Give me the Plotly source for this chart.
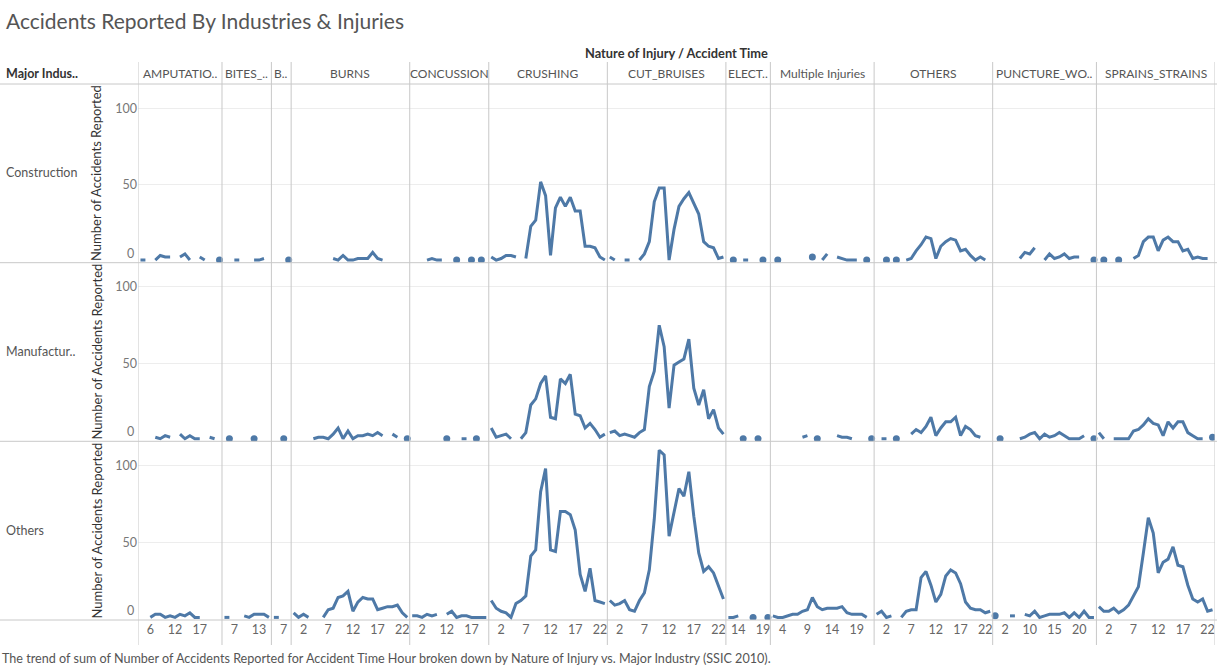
import plotly.graph_objects as go
from plotly.subplots import make_subplots

N = None

# ---------------- data ----------------
industry_labels = ["Construction", "Manufactur..", "Others"]
industries = ["Construction", "Manufacturing", "Others"]

injury_labels = ["AMPUTATIO..", "BITES_..", "B..", "BURNS", "CONCUSSION", "CRUSHING",
                 "CUT_BRUISES", "ELECT..", "Multiple Injuries", "OTHERS",
                 "PUNCTURE_WO..", "SPRAINS_STRAINS"]

y_ticks = [0, 50, 100]

amp_hours = [4, 5, 6, 8, 9, 10, 11, 12, 13, 14, 15, 16, 17, 18, 19, 20, 21]
amp_con = [1, 1, N, 1, 4, 3, 3, N, 3, 5, 1, N, 3, 1, N, N, 1]
amp_man = [N, N, N, 2, 1, 3, 2, N, 4, 1, 3, 1, 1, N, 2, 1, N]
amp_oth = [N, N, 1, 3, 3, 1, 2, 1, 3, 2, 4, 1, 1, N, N, N, N]

bites_hours = [4, 6, 7, 8, 9, 10, 11, 13, 14, 16]
bites_con = [N, N, 1, 1, N, N, 1, 1, 2, N]
bites_man = [N, 1, N, N, N, N, 1, N, N, N]
bites_oth = [1, 1, N, N, 2, 1, 3, 3, 3, 1]

b_hours = [5, 6, 7, 9]
b_con = [N, N, N, 1]
b_man = [N, N, 1, N]
b_oth = [1, 1, N, N]

burns_hours = list(range(24))
burns_con = [N, N, N, N, N, N, N, N, 2, 1, 4, 1, 1, 2, 2, 2, 6, 2, 1, N, N, N, N, N]
burns_man = [N, N, N, N, 1, 2, 2, 1, 4, 8, 1, 6, 1, 3, 3, 4, 3, 5, 3, N, 4, 2, N, 1]
burns_oth = [4, 1, 3, 1, N, N, 1, 6, 7, 14, 15, 18, 5, 11, 14, 13, 13, 6, 7, 8, 8, 9, 4, 1]

conc_hours = [0, 1, 2, 3, 8, 9, 10, 12, 13, 14, 15, 16, 17, 18, 19, 21]
conc_con = [N, N, N, 1, 2, 1, 1, N, N, 1, N, N, 1, N, 1, N]
conc_man = [N, N, N, N, N, N, N, 1, N, N, 1, 1, N, 1, N, N]
conc_oth = [2, 2, 1, 3, 2, 3, N, 3, 5, 1, 2, 2, 1, 1, 1, 1]

crush_hours = list(range(24))
crush_con = [3, 1, 2, 4, 4, 3, N, 2, 23, 27, 52, 43, 4, 35, 42, 36, 42, 33, 33, 10, 10, 9, 3, 1]
crush_man = [8, 2, 3, 4, 1, N, 1, 5, 23, 27, 37, 42, 15, 14, 40, 37, 43, 17, 16, 8, 11, 7, 2, 4]
crush_oth = [12, 7, 5, 4, 1, 10, 12, 15, 41, 45, 83, 98, 45, 44, 70, 70, 68, 58, 29, 18, 33, 12, 11, 10]

cut_hours = list(range(24))
cut_con = [3, 1, N, 1, 1, N, 1, 5, 13, 39, 48, 48, 1, 21, 36, 41, 45, 38, 31, 13, 10, 9, 2, 3]
cut_man = [5, 6, 3, 4, 3, 2, 5, 7, 35, 45, 75, 61, 21, 49, 51, 53, 66, 34, 23, 33, 14, 20, 8, 4]
cut_oth = [12, 9, 10, 12, 6, 5, 12, 17, 32, 65, 110, 107, 54, 70, 85, 80, 96, 67, 43, 31, 34, 30, 21, 13]

elect_hours = [9, 11, 14, 15, 16, 17, 18, 19, 21]
elect_con = [N, 1, N, 1, 1, N, N, 1, N]
elect_man = [N, N, N, 1, N, N, 1, N, N]
elect_oth = [1, 1, 2, N, N, 1, N, N, 1]

multi_hours = list(range(2, 23))
multi_con = [N, 1, N, N, N, N, N, N, 3, N, 1, 5, N, 3, 2, 1, 1, 1, N, 1, N]
multi_man = [N, N, N, N, N, N, 2, 3, N, 1, N, N, N, 3, 2, 2, 1, N, N, N, 1]
multi_oth = [2, 1, 1, 2, 3, 3, 5, 6, 14, 8, 6, 7, 7, 7, 8, 4, 3, 3, 3, 1, N]

others_hours = list(range(24))
others_con = [N, N, 1, N, 1, N, 1, 2, 7, 11, 16, 15, 2, 10, 13, 15, 14, 7, 8, 4, 1, 3, 1, N]
others_man = [N, 1, 1, N, 1, N, N, 4, 7, 5, 9, 15, 3, 8, 12, 12, 15, 3, 9, 7, 3, 2, N, N]
others_oth = [3, 5, 1, 2, N, 1, 5, 6, 6, 27, 31, 22, 11, 16, 28, 32, 30, 23, 11, 7, 6, 6, 4, 5]

punct_hours = [0, 1, 2, 5, 7, 8, 9, 10, 11, 12, 13, 14, 15, 16, 17, 18, 19, 20, 21, 22, 23]
punct_con = [N, N, N, N, N, 2, 6, 5, 9, N, 1, 5, 2, 3, 5, 2, 3, 3, N, N, 1]
punct_man = [N, 1, N, N, N, 1, 2, 4, 5, 1, 4, 2, 3, 5, 3, 1, 1, 1, 3, N, 1]
punct_oth = [2, N, N, 2, 2, N, 3, 2, 5, 1, 2, 3, 3, 3, 4, 1, 4, 1, 5, 1, 1]

sprains_hours = list(range(24))
sprains_con = [N, 1, N, N, 1, N, N, 2, 4, 13, 16, 16, 7, 14, 16, 13, 13, 7, 8, 2, 3, 2, 2, N]
sprains_man = [5, 1, N, 1, 1, 1, 1, 6, 7, 10, 14, 11, 10, 3, 12, 8, 12, 12, 5, 3, 1, 1, N, 2]
sprains_oth = [8, 5, 5, 7, 4, 6, 9, 15, 21, 43, 66, 56, 30, 37, 39, 47, 35, 34, 22, 13, 11, 13, 5, 6]

columns = [
    (amp_hours, [amp_con, amp_man, amp_oth]),
    (bites_hours, [bites_con, bites_man, bites_oth]),
    (b_hours, [b_con, b_man, b_oth]),
    (burns_hours, [burns_con, burns_man, burns_oth]),
    (conc_hours, [conc_con, conc_man, conc_oth]),
    (crush_hours, [crush_con, crush_man, crush_oth]),
    (cut_hours, [cut_con, cut_man, cut_oth]),
    (elect_hours, [elect_con, elect_man, elect_oth]),
    (multi_hours, [multi_con, multi_man, multi_oth]),
    (others_hours, [others_con, others_man, others_oth]),
    (punct_hours, [punct_con, punct_man, punct_oth]),
    (sprains_hours, [sprains_con, sprains_man, sprains_oth]),
]

# ---------------- layout geometry ----------------
W, H = 1217, 668
L, R, T, B = 138, 2, 84, 48
PW, PH = W - L - R, H - T - B
FONT = "Lato"
BLUE = "#4e79a7"
SEP = "#c8c8c8"


def px_x(px):
    return (px - L) / PW


def px_y(py):
    return (H - B - py) / PH


fig = make_subplots(rows=3, cols=1, vertical_spacing=0, shared_xaxes=True)

total_slots = sum(len(h) for h, _ in columns)
offsets = []
o = 0
for h, _ in columns:
    offsets.append(o)
    o += len(h)

for r in range(3):
    xs, ys, txt = [], [], []
    mx, my, mt = [], [], []
    for ci, (hours, rows) in enumerate(columns):
        vals = rows[r]
        off = offsets[ci]
        n = len(hours)
        for i, v in enumerate(vals):
            xs.append(off + i)
            ys.append(v)
            txt.append(f"{injury_labels[ci]}<br>Hour {hours[i]}")
            if v is not None:
                prev_none = i == 0 or vals[i - 1] is None
                next_none = i == n - 1 or vals[i + 1] is None
                if prev_none and next_none:
                    mx.append(off + i)
                    my.append(v)
                    mt.append(f"{injury_labels[ci]}<br>Hour {hours[i]}")
        xs.append(off + n - 0.5)
        ys.append(None)
        txt.append("")
    fig.add_trace(go.Scatter(x=xs, y=ys, mode="lines", connectgaps=False,
                             line=dict(color=BLUE, width=3), text=txt,
                             hovertemplate="%{text}<br>%{y}<extra>" + industries[r] + "</extra>",
                             showlegend=False), row=r + 1, col=1)
    fig.add_trace(go.Scatter(x=mx, y=my, mode="markers",
                             marker=dict(color=BLUE, size=7), text=mt,
                             hovertemplate="%{text}<br>%{y}<extra>" + industries[r] + "</extra>",
                             showlegend=False), row=r + 1, col=1)

# ticks
tickvals, ticktext = [], []
for ci, (hours, _) in enumerate(columns):
    for idx in range(2, len(hours), 5):
        tickvals.append(offsets[ci] + idx)
        ticktext.append(str(hours[idx]))

for r in range(1, 4):
    fig.update_xaxes(range=[-0.5, total_slots - 0.5], showgrid=False, zeroline=False,
                     showline=False, ticks="", showticklabels=(r == 3),
                     tickvals=tickvals, ticktext=ticktext,
                     tickfont=dict(family=FONT, size=12.5, color="#666"),
                     row=r, col=1)
    # the lowest tick label ("0") is drawn separately, lifted above the pane edge like Tableau
    fig.update_yaxes(range=[-0.7, 115.8], tickvals=y_ticks[1:], ticktext=[str(v) for v in y_ticks[1:]],
                     showgrid=True, gridcolor="#ededed", gridwidth=1, zeroline=False,
                     showline=False, ticks="", tickfont=dict(family=FONT, size=12.5, color="#777"),
                     row=r, col=1)

shapes = []
# vertical separators
bounds = [off - 0.5 for off in offsets] + [total_slots - 0.5]
for bx in bounds:
    shapes.append(dict(type="line", xref="x3", yref="paper", x0=bx, x1=bx,
                       y0=px_y(645), y1=px_y(62), line=dict(color=SEP, width=1)))
# horizontal separators
for py in [84, 262.7, 441.3, 620]:
    shapes.append(dict(type="line", xref="paper", yref="paper", x0=px_x(0), x1=px_x(1217),
                       y0=px_y(py), y1=px_y(py), line=dict(color=SEP, width=1)))

annotations = []
annotations.append(dict(text="Accidents Reported By Industries & Injuries", xref="paper", yref="paper",
                        x=px_x(4), y=px_y(20), xanchor="left", yanchor="middle", showarrow=False,
                        font=dict(family=FONT, size=21, color="#555")))
annotations.append(dict(text="<b>Nature of Injury / Accident Time</b>", xref="paper", yref="paper",
                        x=0.5, y=px_y(53), xanchor="center", yanchor="middle", showarrow=False,
                        font=dict(family=FONT, size=12.8, color="#333")))
annotations.append(dict(text="<b>Major Indus..</b>", xref="paper", yref="paper",
                        x=px_x(4), y=px_y(73), xanchor="left", yanchor="middle", showarrow=False,
                        font=dict(family=FONT, size=12.5, color="#333")))
for ci, (hours, _) in enumerate(columns):
    annotations.append(dict(text=injury_labels[ci], xref="x3", yref="paper",
                            x=offsets[ci] + (len(hours) - 1) / 2, y=px_y(73),
                            xanchor="center", yanchor="middle", showarrow=False,
                            font=dict(family=FONT, size=12, color="#555")))
row_centers = [173, 351.5, 530.5]
yrefs = ["y", "y2", "y3"]
for r in range(3):
    annotations.append(dict(text=industry_labels[r], xref="paper", yref="paper",
                            x=px_x(4), y=px_y(row_centers[r]), xanchor="left", yanchor="middle",
                            showarrow=False, font=dict(family=FONT, size=12.5, color="#555")))
    annotations.append(dict(text="Number of Accidents Reported", xref="paper", yref="paper",
                            x=px_x(96), y=px_y(row_centers[r]), xanchor="center", yanchor="middle",
                            textangle=-90, showarrow=False,
                            font=dict(family=FONT, size=13, color="#333")))
    annotations.append(dict(text=str(y_ticks[0]), xref="paper", yref=yrefs[r],
                            x=px_x(135), y=y_ticks[0], xanchor="right", yanchor="bottom",
                            showarrow=False, borderpad=0,
                            font=dict(family=FONT, size=12.5, color="#777")))
annotations.append(dict(text="The trend of sum of Number of Accidents Reported for Accident Time Hour broken down by Nature of Injury vs. Major Industry (SSIC 2010).",
                        xref="paper", yref="paper", x=px_x(0), y=px_y(658), xanchor="left",
                        yanchor="middle", showarrow=False,
                        font=dict(family=FONT, size=12.6, color="#555")))

fig.update_layout(width=W, height=H, margin=dict(l=L, r=R, t=T, b=B),
                  plot_bgcolor="white", paper_bgcolor="white",
                  font=dict(family=FONT), shapes=shapes, annotations=annotations,
                  showlegend=False)

fig.write_html("out.html", config={"displayModeBar": False},
               post_script="document.body.style.margin='0';document.body.style.overflow='hidden';")
